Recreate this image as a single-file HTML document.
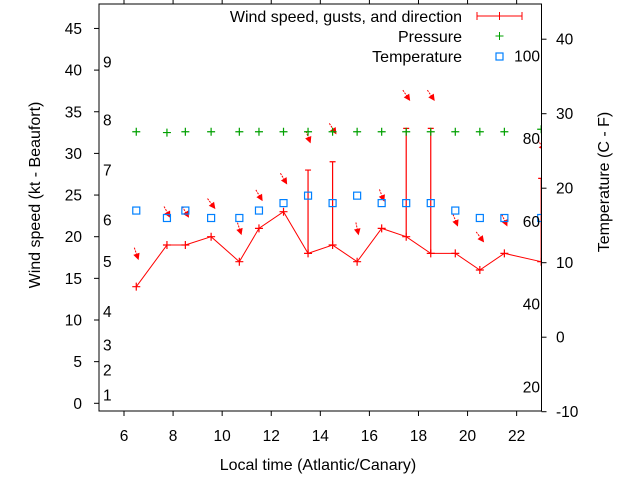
<!DOCTYPE html>
<html><head><meta charset="utf-8"><style>
html,body{margin:0;padding:0;background:#fff;}
svg{display:block;font-family:"Liberation Sans",sans-serif;}
</style></head><body>
<svg id="chart" width="640" height="480" viewBox="0 0 640 480" xmlns="http://www.w3.org/2000/svg">
<rect x="0" y="0" width="640" height="480" fill="#fff"/>
<g id="marks"></g>
<rect x="99" y="4" width="442.5" height="407" fill="none" stroke="#000" stroke-width="1"/>
<g id="axes"></g>
<text transform="translate(40,195) rotate(-90)" text-anchor="middle" font-size="16">Wind speed (kt - Beaufort)</text>
<text transform="translate(609,182) rotate(-90)" text-anchor="middle" font-size="16">Temperature (C - F)</text>
<text x="318" y="470" text-anchor="middle" font-size="16">Local time (Atlantic/Canary)</text>
<g font-size="16">
<text x="462" y="22" text-anchor="end">Wind speed, gusts, and direction</text>
<g stroke="red" stroke-width="1"><line x1="477" y1="16" x2="522" y2="16"/><line x1="477" y1="12" x2="477" y2="20"/><line x1="522" y1="12" x2="522" y2="20"/><line x1="499.5" y1="12" x2="499.5" y2="20"/></g>
<text x="462" y="42" text-anchor="end">Pressure</text>
<g stroke="#00a000"><line x1="495.5" y1="36" x2="503.5" y2="36"/><line x1="499.5" y1="32" x2="499.5" y2="40"/></g>
<text x="462" y="62" text-anchor="end">Temperature</text>
<rect x="496" y="53" width="7" height="7" fill="none" stroke="#0080ff" stroke-width="1.2"/>
</g>
</svg>
<script>
const times = [6.5,7.75,8.5,9.55,10.7,11.5,12.5,13.5,14.5,15.5,16.5,17.5,18.5,19.5,20.5,21.5,23];
const speeds = [14,19,19,20,17,21,23,18,19,17,21,20,18,18,16,18,17];
const gusts = [0,0,0,0,0,0,0,28,29,0,0,33,33,0,0,0,27];
const directions = [341,331,329,323,342,329,329,339,327,348,338,326,326,338,323,335,326];
const pressure = [32.6,32.5,32.6,32.6,32.6,32.6,32.6,32.6,32.6,32.6,32.6,32.6,32.6,32.6,32.6,32.6,32.9];
const temperature = [17,16,17,16,16,17,18,19,18,19,18,18,18,17,16,16,16];
const xTicks = [6,8,10,12,14,16,18,20,22];
const yTicks = [0,5,10,15,20,25,30,35,40,45];
const y2Ticks = [-10,0,10,20,30,40];
const fTicks = [20,40,60,80,100];
const beaufortLabels = [1,2,3,4,5,6,7,8,9];
const beaufortKt = [1,4,7,11,17,22,28,34,41];

const X = t => 124 + 24.54*(t-6);
const Y = v => 403.3 - 8.33*v;
const T = c => 262.7 - 7.45*(c-10);
const NS = 'http://www.w3.org/2000/svg';
function mk(tag, attrs, parent){const e=document.createElementNS(NS,tag);for(const k in attrs)e.setAttribute(k,attrs[k]);parent.appendChild(e);return e;}
const marks = document.getElementById('marks');
const axes = document.getElementById('axes');
const clip = mk('clipPath',{id:'pc'},marks); mk('rect',{x:99,y:4,width:442.5,height:407},clip);
const g = mk('g',{'clip-path':'url(#pc)'},marks);
const FS = 15.5;

xTicks.forEach(t=>{
  const l=mk('line',{x1:X(t),y1:411,x2:X(t),y2:416,stroke:'#000'},axes);
  
  
  mk('line',{x1:X(t),y1:4,x2:X(t),y2:0,stroke:'#000'},axes);
  const tx=mk('text',{x:X(t),y:441,'text-anchor':'middle','font-size':FS},axes); tx.textContent=t;
  
  
});
yTicks.forEach(v=>{
  mk('line',{x1:94,y1:Y(v),x2:99,y2:Y(v),stroke:'#000'},axes);
  const tx=mk('text',{x:82,y:Y(v)+5.5,'text-anchor':'end','font-size':FS},axes); tx.textContent=v;
  
  
});
y2Ticks.forEach(c=>{
  mk('line',{x1:541.5,y1:T(c),x2:546.5,y2:T(c),stroke:'#000'},axes);
  const tx=mk('text',{x:556,y:T(c)+5.5,'font-size':FS},axes); tx.textContent=c;
  
  
});
fTicks.forEach(f=>{
  const tx=mk('text',{x:540,y:T((f-32)*5/9)+5.5,'text-anchor':'end','font-size':FS},axes); tx.textContent=f;
  
  
});
beaufortLabels.forEach((b,i)=>{
  const tx=mk('text',{x:103,y:Y(beaufortKt[i])+5.5,'font-size':FS},axes); tx.textContent=b;
  
  
});

const pts = times.map((t,i)=>X(t)+','+Y(speeds[i])).join(' ');
const pl = mk('polyline',{points:pts,fill:'none',stroke:'red','stroke-width':1},g);


times.forEach((t,i)=>{
  const x=X(t), y=Y(speeds[i]);
  const p=mk('path',{d:`M${x-4},${y}H${x+4}M${x},${y-4}V${y+4}`,stroke:'red','stroke-width':1.2},g);
  
  
  if(gusts[i]>speeds[i]){
    const gy=Y(gusts[i]);
    const b=mk('path',{d:`M${x},${y}V${gy}M${x-3},${gy}H${x+3}`,stroke:'red','stroke-width':1.2},g);
    
    
  }
  const top=Math.max(speeds[i],gusts[i])+4;
  const cy=Y(top);
  const b=(directions[i]+180)*Math.PI/180;
  const dx=Math.sin(b)*6, dy=-Math.cos(b)*6;
  const hx=x+dx, hy=cy+dy;
  const ux=dx/6, uy=dy/6;
  const a=mk('g',{},g);
  
  
  mk('line',{x1:x-dx,y1:cy-dy,x2:hx,y2:hy,stroke:'red','stroke-width':1,'stroke-dasharray':'2,1'},a);
  mk('polygon',{points:`${hx},${hy} ${hx-ux*5-uy*2.5},${hy-uy*5+ux*2.5} ${hx-ux*5+uy*2.5},${hy-uy*5-ux*2.5}`,fill:'red',stroke:'red'},a);
});
times.forEach((t,i)=>{
  const x=X(t), y=Y(pressure[i]);
  const p=mk('path',{d:`M${x-4},${y}H${x+4}M${x},${y-4}V${y+4}`,stroke:'#00a000','stroke-width':1.2},g);
  
  
});
times.forEach((t,i)=>{
  const x=X(t), y=T(temperature[i]);
  const r=mk('rect',{x:x-3.5,y:y-3.5,width:7,height:7,fill:'none',stroke:'#0080ff','stroke-width':1.2},g);
  
  
});
</script>
</body></html>
